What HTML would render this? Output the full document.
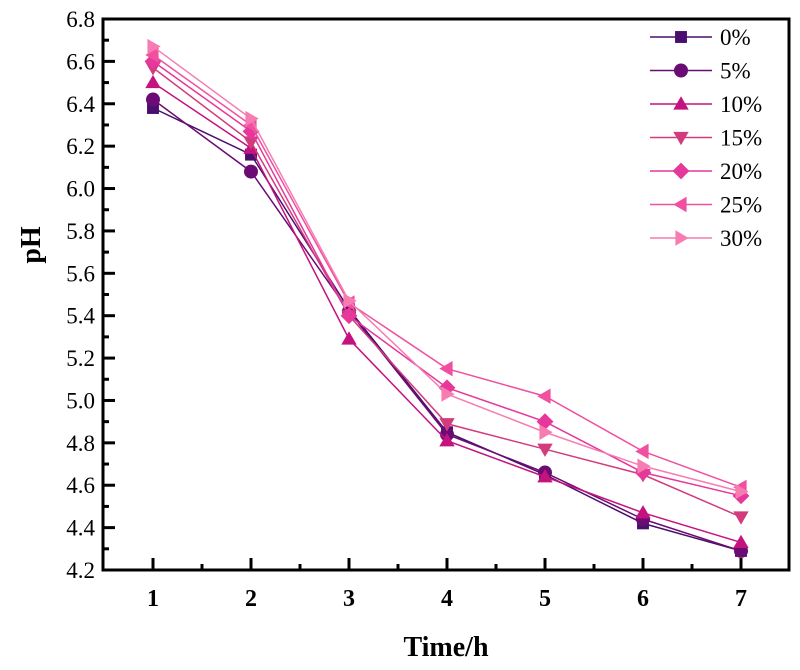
<!DOCTYPE html>
<html><head><meta charset="utf-8"><style>body{margin:0;background:#fff}svg text{font-family:"Liberation Serif","Times New Roman",serif}</style></head>
<body>
<svg id="c" width="800" height="665" font-family="Liberation Serif, serif"></svg>
<script>
const categories=[1,2,3,4,5,6,7];
const seriesNames=["0%","5%","10%","15%","20%","25%","30%"];
const s0=[6.38,6.16,5.43,4.85,4.65,4.42,4.29];
const s5=[6.42,6.08,5.42,4.84,4.66,4.44,4.29];
const s10=[6.50,6.19,5.29,4.81,4.64,4.47,4.33];
const s15=[6.57,6.22,5.40,4.89,4.77,4.65,4.45];
const s20=[6.60,6.27,5.40,5.06,4.90,4.66,4.55];
const s25=[6.63,6.30,5.46,5.15,5.02,4.76,4.59];
const s30=[6.67,6.33,5.47,5.03,4.85,4.69,4.57];
const yTicks=[4.2,4.4,4.6,4.8,5.0,5.2,5.4,5.6,5.8,6.0,6.2,6.4,6.6,6.8];
const series=[s0,s5,s10,s15,s20,s25,s30];
const colors=["#4a0f6e","#6b0c74","#c4137f","#d23c7d","#e6379b","#f0509f","#f77cb2"];
const shapes=["sq","ci","tu","td","di","tl","tr"];
const L=103,R=789,T=19,B=570;
const FF='"Liberation Serif", serif';
const x=v=>153+(v-1)*98;
const y=v=>B-(v-4.2)/2.6*(B-T);
const svg=document.getElementById('c');const NS="http://www.w3.org/2000/svg";
function el(t,a,p){const e=document.createElementNS(NS,t);for(const k in a)e.setAttribute(k,a[k]);if(t=='text')e.setAttribute('font-family',FF);(p||svg).appendChild(e);return e;}
function marker(s,cx,cy,r,c,g){
 let e;
 if(s=="sq")e=el('rect',{x:cx-r*0.85,y:cy-r*0.85,width:r*1.7,height:r*1.7,fill:c},g);
 else if(s=="ci")e=el('circle',{cx:cx,cy:cy,r:r,fill:c},g);
 else{let p;
  if(s=="tu")p=[[0,-r*1.1],[r*1.1,r*0.8],[-r*1.1,r*0.8]];
  if(s=="td")p=[[0,r*1.1],[r*1.1,-r*0.8],[-r*1.1,-r*0.8]];
  if(s=="di")p=[[0,-r*1.2],[r*1.2,0],[0,r*1.2],[-r*1.2,0]];
  if(s=="tl")p=[[-r*1.1,0],[r*0.8,-r*1.1],[r*0.8,r*1.1]];
  if(s=="tr")p=[[r*1.1,0],[-r*0.8,-r*1.1],[-r*0.8,r*1.1]];
  e=el('polygon',{points:p.map(q=>(cx+q[0])+','+(cy+q[1])).join(' '),fill:c},g);}
 return e;}
series.forEach((d,i)=>{
 const g=el('g',{});
 
 
 el('polyline',{points:d.map((v,j)=>x(categories[j])+','+y(v)).join(' '),fill:'none',stroke:colors[i],'stroke-width':1.5},g);
 d.forEach((v,j)=>{const m=marker(shapes[i],x(categories[j]),y(v),7,colors[i],g);
  
  });
});
const fr=el('rect',{x:L,y:T,width:R-L,height:B-T,fill:'none',stroke:'#000','stroke-width':3});


yTicks.forEach((t,i)=>{
 el('line',{x1:L,x2:L+12,y1:y(t),y2:y(t),stroke:'#000','stroke-width':3});
 if(i<yTicks.length-1)el('line',{x1:L,x2:L+6,y1:(y(t)+y(yTicks[i+1]))/2,y2:(y(t)+y(yTicks[i+1]))/2,stroke:'#000','stroke-width':3});
 const tx=el('text',{x:L-8,y:y(t)+8,'text-anchor':'end','font-size':23});tx.textContent=t.toFixed(1);
 
 
});
categories.forEach((c,i)=>{
 el('line',{x1:x(c),x2:x(c),y1:B,y2:B-12,stroke:'#000','stroke-width':3});
 if(i<categories.length-1)el('line',{x1:x(c)+49,x2:x(c)+49,y1:B,y2:B-6,stroke:'#000','stroke-width':3});
 const tx=el('text',{x:x(c),y:B+36,'text-anchor':'middle','font-size':24,'font-weight':'bold'});tx.textContent=c;
 
 
});
const xt=el('text',{x:446,y:656,'text-anchor':'middle','font-size':28,'font-weight':'bold'});xt.textContent='Time/h';


const yt=el('text',{x:0,y:0,'text-anchor':'middle','font-size':28,'font-weight':'bold',transform:'translate(40,245) rotate(-90)'});yt.textContent='pH';


seriesNames.forEach((n,i)=>{
 const g=el('g',{});
 
 
 const yy=37+i*33.5;
 el('line',{x1:650,x2:712,y1:yy,y2:yy,stroke:colors[i],'stroke-width':1.5},g);
 marker(shapes[i],681,yy,7,colors[i],g);
 const tx=el('text',{x:720,y:yy+8,'font-size':23},g);tx.textContent=n;
});
</script>
</body></html>
